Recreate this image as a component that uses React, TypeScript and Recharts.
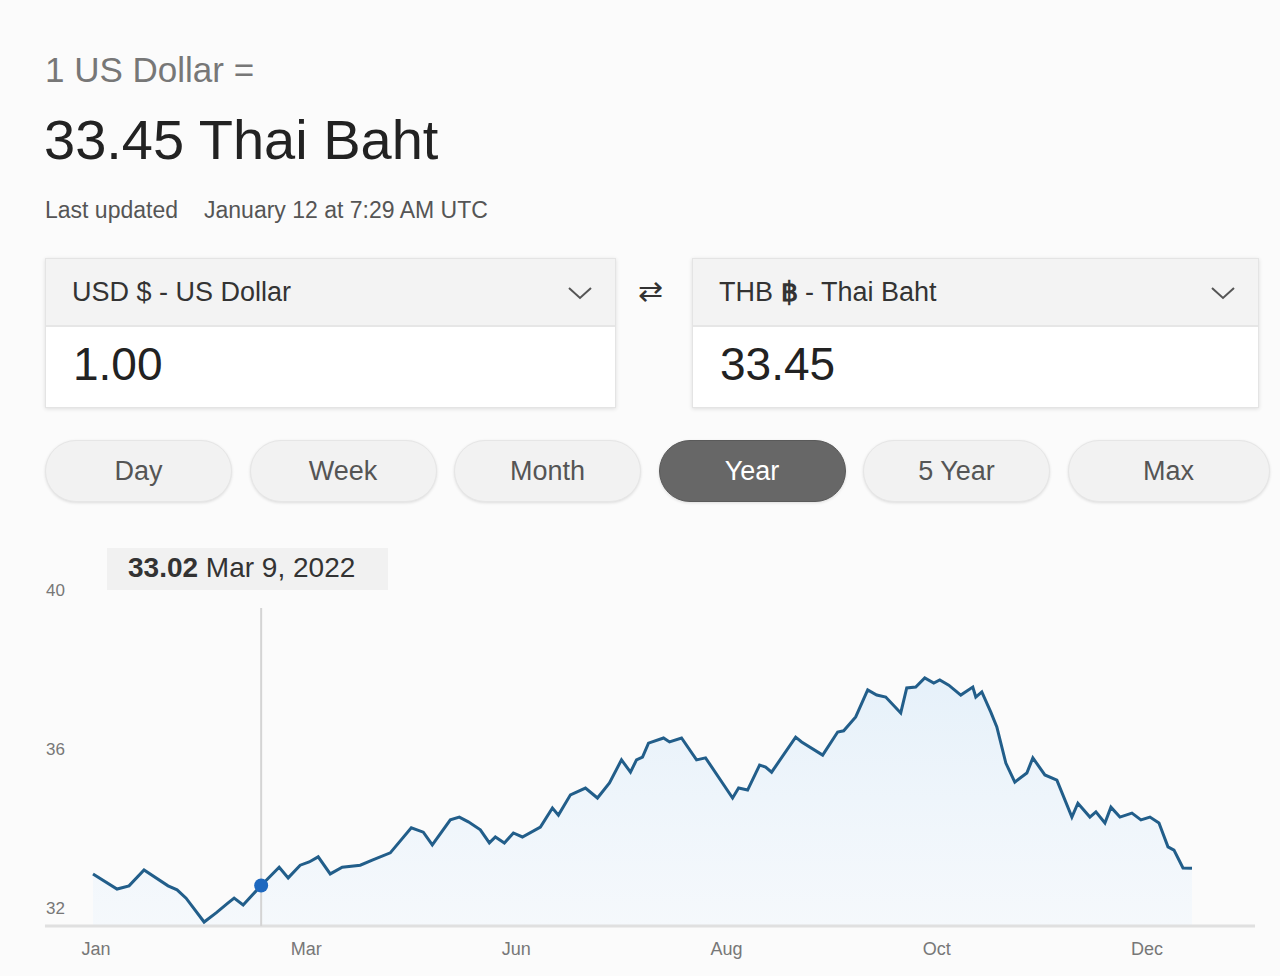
import React from 'react';
import {
  ComposedChart,
  Area,
  XAxis,
  YAxis,
  ReferenceLine,
  ReferenceDot,
} from 'recharts';

// days since Jan 12, 2022 and the USD/THB rate at that day
const days = [
  0, 8, 12, 17, 25, 28, 31, 37, 41, 45, 47, 50, 56, 62, 65, 69, 72, 75, 79, 83,
  89, 93, 99, 106, 110, 113, 119, 122, 125, 129, 132, 134, 137, 140, 143, 149, 153, 155, 159, 164,
  168, 172, 176, 179, 181, 183, 185, 190, 192, 196, 201, 204, 213, 215, 218, 222, 224, 226, 234, 236,
  243, 248, 250, 254, 258, 261, 264, 269, 271, 274, 277, 280, 282, 285, 289, 293, 294, 296, 299, 301,
  304, 307, 311, 313, 317, 321, 326, 328, 332, 334, 337, 339, 342, 346, 349, 352, 355, 358, 360, 363,
  366,
];
const rates = [
  33.31, 32.93, 33.01, 33.41, 33.01, 32.91, 32.7, 32.1, 32.33, 32.58, 32.7, 32.53, 33.02, 33.48, 33.21, 33.53, 33.61, 33.74, 33.31, 33.48,
  33.53, 33.66, 33.84, 34.47, 34.36, 34.04, 34.67, 34.74, 34.62, 34.42, 34.09, 34.24, 34.09, 34.34, 34.24, 34.49, 34.97, 34.79, 35.3, 35.47,
  35.22, 35.6, 36.18, 35.87, 36.18, 36.25, 36.6, 36.73, 36.63, 36.73, 36.18, 36.23, 35.22, 35.47, 35.42, 36.05, 36.0, 35.87, 36.75, 36.63,
  36.3, 36.88, 36.91, 37.26, 37.94, 37.81, 37.76, 37.36, 37.99, 38.01, 38.24, 38.11, 38.19, 38.06, 37.81, 38.01, 37.76, 37.89, 37.38, 37.01,
  36.1, 35.62, 35.85, 36.23, 35.8, 35.67, 34.74, 35.09, 34.74, 34.87, 34.59, 34.99, 34.74, 34.84, 34.67, 34.74, 34.59, 33.99, 33.91, 33.46,
  33.45,
];

const tickDays = [1, 71, 141, 211, 281, 351];
const tickLabels = ['Jan', 'Mar', 'Jun', 'Aug', 'Oct', 'Dec'];
const yTicks = [32, 36, 40];

const ranges = ['Day', 'Week', 'Month', 'Year', '5 Year', 'Max'];
const activeRange = 'Year';

const hoverDay = 56;
const hoverRate = 33.02;
const hoverLabel = 'Mar 9, 2022';

const data = days.map((day, i) => ({ day, rate: rates[i] }));

const FONT = "'Liberation Sans', Arial, sans-serif";

function YTick({ y, payload }: any) {
  return (
    <text x={46} y={y - 18} dominantBaseline="central" fontSize={17} fill="#777" fontFamily={FONT}>
      {payload.value}
    </text>
  );
}

function Chevron({ left, top }: { left: number; top: number }) {
  return (
    <svg width={26} height={16} style={{ position: 'absolute', left, top }}>
      <polyline points="2,3 13,13 24,3" fill="none" stroke="#555" strokeWidth={2} />
    </svg>
  );
}

function CurrencyBox({ left, width, label, value }: { left: number; width: number; label: React.ReactNode; value: string }) {
  return (
    <div
      style={{
        position: 'absolute',
        left,
        top: 258,
        width,
        height: 150,
        background: '#fff',
        border: '1px solid #e4e4e4',
        boxShadow: '0 1px 4px rgba(0,0,0,0.12)',
        boxSizing: 'border-box',
      }}
    >
      <div style={{ height: 66, background: '#f3f3f3', borderBottom: '2px solid #e6e6e6', position: 'relative' }}>
        <div style={{ position: 'absolute', left: 26, top: 18, fontSize: 27, lineHeight: '30px', color: '#333' }}>{label}</div>
        <Chevron left={width - 50} top={26} />
      </div>
      <div style={{ position: 'absolute', left: 27, top: 80, fontSize: 46, lineHeight: '50px', color: '#222' }}>{value}</div>
    </div>
  );
}

export default function App() {
  return (
    <div
      style={{
        position: 'absolute',
        left: 0,
        top: 0,
        width: 1280,
        height: 976,
        background: '#fbfbfb',
        fontFamily: FONT,
        overflow: 'hidden',
      }}
    >
      <div style={{ position: 'absolute', left: 45, top: 52, fontSize: 35, lineHeight: '36px', color: '#777' }}>1 US Dollar =</div>
      <div style={{ position: 'absolute', left: 44, top: 112, fontSize: 56, lineHeight: '56px', color: '#222' }}>33.45 Thai Baht</div>
      <div style={{ position: 'absolute', left: 45, top: 198, fontSize: 23, lineHeight: '24px', color: '#555' }}>
        Last updated<span style={{ marginLeft: 26 }}>January 12 at 7:29 AM UTC</span>
      </div>

      <CurrencyBox left={45} width={571} label="USD $ - US Dollar" value="1.00" />
      <div style={{ position: 'absolute', left: 638, top: 274, fontSize: 30, lineHeight: '34px', color: '#333' }}>⇄</div>
      <CurrencyBox
        left={692}
        width={567}
        label={<span>THB <b>฿</b> - Thai Baht</span>}
        value="33.45"
      />

      {ranges.map((r, i) => {
        const active = r === activeRange;
        return (
          <div
            key={r}
            style={{
              position: 'absolute',
              left: 45 + i * 204.5,
              top: 440,
              width: i === ranges.length - 1 ? 202 : 187,
              height: 62,
              borderRadius: 31,
              background: active ? '#676767' : '#f2f2f2',
              border: active ? '1px solid #5a5a5a' : '1px solid #e6e6e6',
              boxShadow: '0 1px 3px rgba(0,0,0,0.12)',
              boxSizing: 'border-box',
              color: active ? '#fff' : '#555',
              fontSize: 27,
              lineHeight: '60px',
              textAlign: 'center',
            }}
          >
            {r}
          </div>
        );
      })}

      <div style={{ position: 'absolute', left: 0, top: 540, width: 1280, height: 436 }}>
        <ComposedChart width={1280} height={436} data={data} margin={{ top: 68, right: 88, left: 43, bottom: 0 }}>
          <defs>
            <linearGradient id="rateFill" x1="0" y1="0" x2="0" y2="1">
              <stop offset="0%" stopColor="#d6e9f9" stopOpacity={0.95} />
              <stop offset="100%" stopColor="#edf5fd" stopOpacity={0.7} />
            </linearGradient>
          </defs>
          <XAxis
            type="number"
            dataKey="day"
            domain={[0, 366]}
            ticks={tickDays}
            tickFormatter={(v: number) => tickLabels[tickDays.indexOf(v)]}
            axisLine={false}
            tickLine={false}
            tickMargin={10}
            height={50}
            tick={{ fontSize: 18, fill: '#777', fontFamily: FONT }}
          />
          <YAxis
            domain={[32, 40]}
            ticks={yTicks}
            width={50}
            axisLine={false}
            tickLine={false}
            tick={<YTick />}
          />
          <ReferenceLine
            segment={[{ x: -16, y: 32 }, { x: 387, y: 32 }]}
            ifOverflow="visible"
            stroke="#e0e0e0"
            strokeWidth={3}
          />
          <ReferenceLine x={hoverDay} stroke="#d4d4d4" strokeWidth={2} />
          <Area
            type="linear"
            dataKey="rate"
            stroke="#225e8a"
            strokeWidth={3}
            fill="url(#rateFill)"
            dot={false}
            activeDot={false}
            isAnimationActive={false}
          />
          <ReferenceDot x={hoverDay} y={hoverRate} r={7} fill="#1e68bf" stroke="none" />
        </ComposedChart>
      </div>

      <div
        style={{
          position: 'absolute',
          left: 107,
          top: 548,
          width: 281,
          height: 42,
          background: '#f1f1f1',
          boxSizing: 'border-box',
          paddingLeft: 21,
          fontSize: 28,
          lineHeight: '40px',
          color: '#333',
          whiteSpace: 'nowrap',
        }}
      >
        <b>{hoverRate.toFixed(2)}</b> {hoverLabel}
      </div>
    </div>
  );
}
